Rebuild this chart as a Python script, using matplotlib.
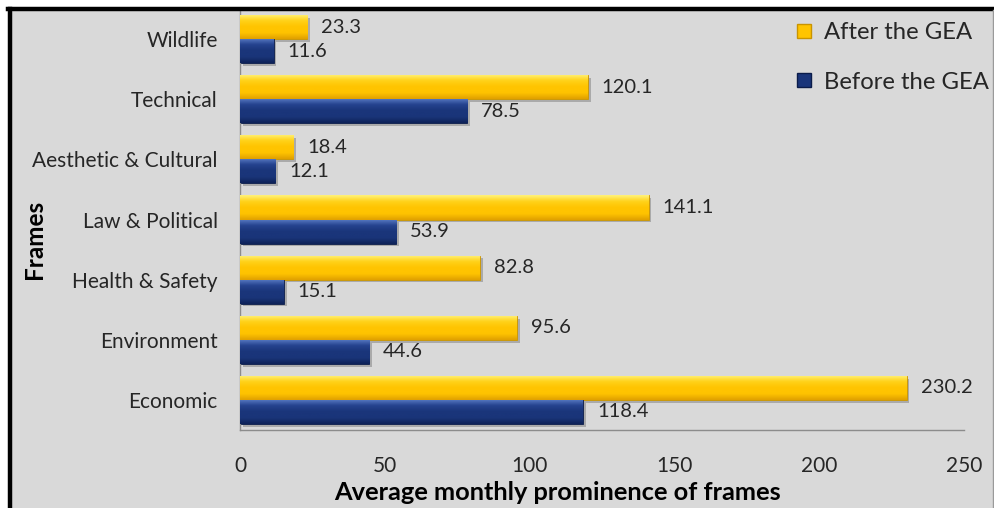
import numpy as np
import matplotlib
matplotlib.use("Agg")
import matplotlib.pyplot as plt
from matplotlib.lines import Line2D
from matplotlib.patches import Rectangle
import matplotlib.patheffects as pe

plt.rcParams['font.family'] = ['Lato', 'DejaVu Sans']

# Frames, listed bottom to top
frames = ["Economic", "Environment", "Health & Safety", "Law & Political",
          "Aesthetic & Cultural", "Technical", "Wildlife"]
after_gea = [230.2, 95.6, 82.8, 141.1, 18.4, 120.1, 23.3]
before_gea = [118.4, 44.6, 15.1, 53.9, 12.1, 78.5, 11.6]
x_ticks = [0, 50, 100, 150, 200, 250]

BG = "#d9d9d9"
GOLD = ["#fff27a", "#ffd21a", "#ffc400", "#e0a000"]
NAVY = ["#5a7cc4", "#25438f", "#1a357a", "#0e2258"]

fig = plt.figure(figsize=(9.95, 5.08), dpi=100, facecolor="white")
# chart area background with dark frame on top/left
fig.patches.append(Rectangle((9 / 995, 0), 1 - 9 / 995, 1 - 9 / 508,
                             transform=fig.transFigure, facecolor=BG,
                             edgecolor="none", zorder=-1))
fig.add_artist(Line2D([9.5 / 995, 9.5 / 995], [0, 1 - 8.5 / 508],
                      transform=fig.transFigure, color="black", lw=3.2))
fig.add_artist(Line2D([8 / 995, 1], [1 - 8.5 / 508, 1 - 8.5 / 508],
                      transform=fig.transFigure, color="black", lw=3.2))
fig.add_artist(Line2D([993.5 / 995, 993.5 / 995], [0, 1 - 10 / 508],
                      transform=fig.transFigure, color="#9a9a9a", lw=1.0))

ax = fig.add_axes([240 / 995, 1 - 430 / 508, (964 - 240) / 995, (430 - 9) / 508])
ax.set_facecolor(BG)

y = np.arange(len(frames))
h = 0.4


def shade(bars, stops):
    cmap = matplotlib.colors.LinearSegmentedColormap.from_list("g", stops)
    grad = np.linspace(0, 1, 64).reshape(-1, 1)
    for b in bars:
        x0, y0 = b.get_x(), b.get_y()
        w, hh = b.get_width(), b.get_height()
        b.set_path_effects([pe.SimplePatchShadow(offset=(2, -2), alpha=0.35,
                                                 shadow_rgbFace="#555555"),
                            pe.Normal()])
        im = ax.imshow(grad, cmap=cmap, aspect="auto", origin="upper",
                       extent=(x0, x0 + w, y0, y0 + hh), zorder=3,
                       interpolation="bicubic")
        im.set_clip_path(b)


bars_after = ax.barh(y + h / 2, after_gea, height=h, color=GOLD[2],
                     edgecolor="#c99400", linewidth=0.6, zorder=2,
                     label="After the GEA")
bars_before = ax.barh(y - h / 2, before_gea, height=h, color=NAVY[2],
                      edgecolor="#0b1c4a", linewidth=0.6, zorder=2,
                      label="Before the GEA")
# gradient: light top edge, darker bottom
shade(bars_after, [GOLD[0], GOLD[1], GOLD[2], GOLD[2], GOLD[3]])
shade(bars_before, [NAVY[0], NAVY[1], NAVY[2], NAVY[2], NAVY[3]])

for b, v in zip(bars_after, after_gea):
    ax.annotate(f"{v:.1f}", (v, b.get_y() + b.get_height() / 2),
                xytext=(14, 0), textcoords="offset pixels", va="center",
                ha="left", fontsize=14.5, color="#262626", zorder=5)
for b, v in zip(bars_before, before_gea):
    ax.annotate(f"{v:.1f}", (v, b.get_y() + b.get_height() / 2),
                xytext=(14, 0), textcoords="offset pixels", va="center",
                ha="left", fontsize=14.5, color="#262626", zorder=5)

ax.set_xlim(0, 250)
ax.set_ylim(-0.5, len(frames) - 0.5)
ax.set_xticks(x_ticks)
ax.set_yticks(y)
ax.set_yticklabels(frames)
ax.tick_params(axis="both", length=0, labelsize=15, colors="#262626")
ax.tick_params(axis="y", pad=16)
ax.tick_params(axis="x", pad=19)
for s in ("top", "right"):
    ax.spines[s].set_visible(False)
for s in ("left", "bottom"):
    ax.spines[s].set_color("#8c8c8c")
    ax.spines[s].set_linewidth(1.0)

fig.text(558 / 995, 1 - 492 / 508, "Average monthly prominence of frames",
         fontsize=18.3, fontweight="bold", color="black",
         ha="center", va="center")
fig.text(35 / 995, 1 - 239 / 508, "Frames", rotation=90, fontsize=17.5,
         fontweight="bold", ha="center", va="center")

handles = [Line2D([], [], marker="s", ls="none", markersize=10,
                  markerfacecolor=GOLD[2], markeredgecolor="#c99400"),
           Line2D([], [], marker="s", ls="none", markersize=10,
                  markerfacecolor=NAVY[2], markeredgecolor="#0b1c4a")]
fig.legend(handles, ["After the GEA", "Before the GEA"], loc="upper left",
           bbox_to_anchor=(794 / 995, 1 - 22 / 508), frameon=False,
           fontsize=17.2, handlelength=0.8, handletextpad=0.45,
           labelspacing=1.2, borderaxespad=0, borderpad=0,
           labelcolor="#262626")

fig.savefig("out.png", dpi=100, facecolor="white")
